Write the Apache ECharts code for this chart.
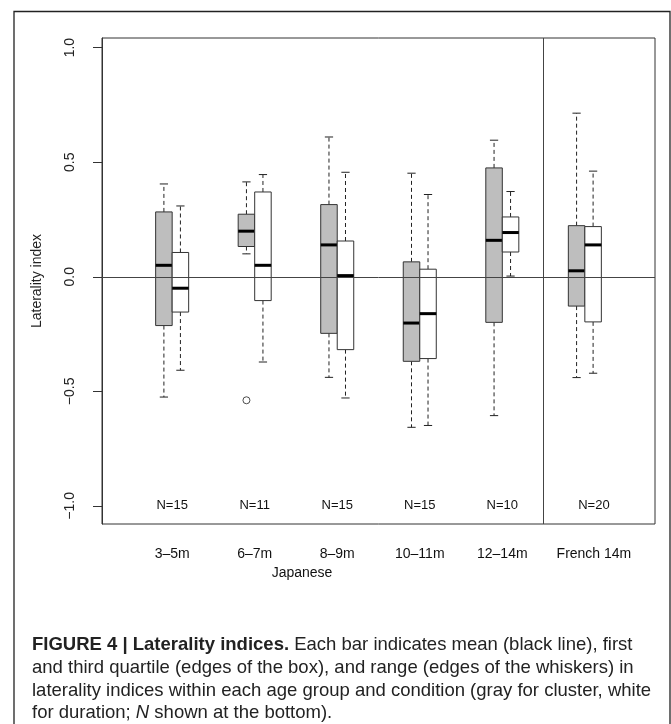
<!DOCTYPE html>
<html><head><meta charset="utf-8">
<script src="https://cdn.jsdelivr.net/npm/echarts@6/dist/echarts.min.js"></script>
<style>html,body{margin:0;padding:0;background:#fff}#c{width:671px;height:724px}</style>
</head><body><div id="c"></div>
<script>
// ---------- data ----------
const categories = ['3\u20135m', '6\u20137m', '8\u20139m', '10\u201311m', '12\u201314m', 'French 14m'];
const nLabels = ['N=15', 'N=11', 'N=15', 'N=15', 'N=10', 'N=20'];
// gray = cluster : [min, q1, mean, q3, max]
const clusterStats = [
  [-0.525, -0.213,  0.050, 0.283, 0.405],
  [ 0.100,  0.132,  0.199, 0.273, 0.414],
  [-0.439, -0.247,  0.139, 0.315, 0.610],
  [-0.657, -0.369, -0.202, 0.065, 0.452],
  [-0.606, -0.199,  0.159, 0.475, 0.596],
  [-0.440, -0.128,  0.026, 0.223, 0.714]
];
// white = duration : [min, q1, mean, q3, max]
const durationStats = [
  [-0.408, -0.154, -0.050, 0.106, 0.309],
  [-0.372, -0.104,  0.050, 0.370, 0.446],
  [-0.529, -0.318,  0.005, 0.156, 0.456],
  [-0.649, -0.357, -0.161, 0.033, 0.359],
  [ 0.003,  0.108,  0.193, 0.261, 0.372],
  [-0.421, -0.197,  0.139, 0.219, 0.461]
];
// outliers of the cluster series: [group index, value]
const clusterOutliers = [[1, -0.539]];
const yTicks = [-1.0, -0.5, 0.0, 0.5, 1.0];
const groupTitle = 'Japanese';
const yTitle = 'Laterality index';

// ---------- layout constants ----------
const Y_MIN = -1.079, Y_MAX = 1.042;
const X_MIN = 0.15, X_MAX = 6.85;
const BOX_W = 0.2;
const SEPARATOR = 5.5;
const LABEL_SHIFT = [0, 0, 0, 0, 0, 0.11];
const GROUP_TITLE_POS = 2.573;
const FONT = '"Liberation Sans", Arial, sans-serif';
const CAP_SIZE = 18.5;

function fmt(v) {
  const s = Math.abs(v).toFixed(1);
  return (v < -1e-9 ? '\u2212' : '') + s;
}

function makeBox(fill) {
  return function (params, api) {
    const x = api.value(0);
    const c = v => api.coord([x, v]);
    const pMin = c(api.value(1)), pQ1 = c(api.value(2)), pMed = c(api.value(3)),
          pQ3 = c(api.value(4)), pMax = c(api.value(5));
    const w = api.size([BOX_W, 0])[0];
    const cx = pMin[0];
    const line = (x1, y1, x2, y2, style) => ({ type: 'line', shape: { x1, y1, x2, y2 }, style });
    const dash = { stroke: '#222', lineWidth: 1, lineDash: [4, 3] };
    const solid = { stroke: '#222', lineWidth: 1 };
    return {
      type: 'group', children: [
        line(cx, pQ3[1], cx, pMax[1], dash),
        line(cx, pQ1[1], cx, pMin[1], dash),
        line(cx - w / 4, pMax[1], cx + w / 4, pMax[1], solid),
        line(cx - w / 4, pMin[1], cx + w / 4, pMin[1], solid),
        { type: 'rect', shape: { x: cx - w / 2, y: pQ3[1], width: w, height: pQ1[1] - pQ3[1] },
          style: { fill: fill, stroke: '#333', lineWidth: 1 } },
        line(cx - w / 2, pMed[1], cx + w / 2, pMed[1], { stroke: '#000', lineWidth: 3 })
      ]
    };
  };
}

const chart = echarts.init(document.getElementById('c'), null, { renderer: 'canvas' });

function capText(top, text, rich) {
  return { type: 'text', left: 32, top: top, style: {
    text: text, fontSize: CAP_SIZE, fontFamily: FONT, fill: '#222',
    rich: rich || {} } };
}

const option = {
  animation: false,
  backgroundColor: '#fff',
  grid: { left: 102, top: 38, right: 16, bottom: 200, show: true, borderColor: '#333', borderWidth: 1,
          backgroundColor: 'rgba(0,0,0,0)', outerBoundsMode: 'none' },
  xAxis: { type: 'value', min: X_MIN, max: X_MAX, show: false },
  yAxis: {
    type: 'value', min: Y_MIN, max: Y_MAX,
    splitLine: { show: false },
    axisLine: { show: true, lineStyle: { color: '#333', width: 1 } },
    axisTick: { show: true, length: 9, customValues: yTicks, lineStyle: { color: '#333' } },
    axisLabel: { customValues: yTicks, rotate: 90, margin: 25, fontSize: 14, fontFamily: FONT,
                 color: '#222', formatter: fmt },
    name: yTitle, nameLocation: 'middle', nameGap: 58, nameRotate: 90,
    nameTextStyle: { fontSize: 14, fontFamily: FONT, color: '#222' }
  },
  series: [
    {
      type: 'custom', name: 'cluster', clip: false,
      encode: { x: 0, y: [1, 2, 3, 4, 5] },
      data: clusterStats.map((s, i) => [i + 1 - BOX_W / 2].concat(s)),
      renderItem: makeBox('#bebebe')
    },
    {
      type: 'custom', name: 'duration', clip: false,
      encode: { x: 0, y: [1, 2, 3, 4, 5] },
      data: durationStats.map((s, i) => [i + 1 + BOX_W / 2].concat(s)),
      renderItem: makeBox('#ffffff')
    },
    {
      type: 'scatter', name: 'outliers', z: 3,
      symbol: 'circle', symbolSize: 7,
      itemStyle: { color: 'rgba(255,255,255,0)', borderColor: '#222', borderWidth: 1 },
      data: clusterOutliers.map(o => [o[0] + 1 - BOX_W / 2, o[1]]),
      markLine: {
        silent: true, symbol: 'none', animation: false,
        label: { show: false },
        lineStyle: { color: '#444', width: 1, type: 'solid' },
        emphasis: { disabled: true },
        data: [{ yAxis: 0 }, { xAxis: SEPARATOR }]
      }
    },
    {
      type: 'custom', name: 'labels', clip: false, silent: true,
      data: categories.map((c, i) => [i + 1 + LABEL_SHIFT[i], i]),
      renderItem: function (params, api) {
        const i = api.value(1);
        const pB = api.coord([api.value(0), Y_MIN]);
        const pN = api.coord([api.value(0), -1.0]);
        return {
          type: 'group', children: [
            { type: 'text', x: pB[0], y: pB[1] + 30,
              style: { text: categories[i], fill: '#111', fontSize: 14, fontFamily: FONT, align: 'center', verticalAlign: 'middle' } },
            { type: 'text', x: pN[0], y: pN[1],
              style: { text: nLabels[i], fill: '#111', fontSize: 13, fontFamily: FONT, align: 'center', verticalAlign: 'middle' } }
          ]
        };
      }
    },
    {
      type: 'custom', name: 'groupTitle', clip: false, silent: true,
      data: [[GROUP_TITLE_POS, 0]],
      renderItem: function (params, api) {
        const p = api.coord([api.value(0), Y_MIN]);
        return { type: 'text', x: p[0], y: p[1] + 49,
          style: { text: groupTitle, fill: '#111', fontSize: 14, fontFamily: FONT, align: 'center', verticalAlign: 'middle' } };
      }
    }
  ],
  graphic: [
    { type: 'polyline', shape: { points: [[14, 740], [14, 11.5], [670, 11.5], [670, 740]] },
      style: { stroke: '#222', lineWidth: 1.3, fill: null } },
    capText(635, '{b|FIGURE 4 | Laterality indices.} Each bar indicates mean (black line), first',
      { b: { fontWeight: 'bold', fontSize: CAP_SIZE, fontFamily: FONT, fill: '#222' } }),
    capText(658, 'and third quartile (edges of the box), and range (edges of the whiskers) in'),
    capText(681, 'laterality indices within each age group and condition (gray for cluster, white'),
    capText(703, 'for duration; {i|N} shown at the bottom).',
      { i: { fontStyle: 'italic', fontSize: CAP_SIZE, fontFamily: FONT, fill: '#222' } })
  ]
};
chart.setOption(option);
</script>
</body></html>
